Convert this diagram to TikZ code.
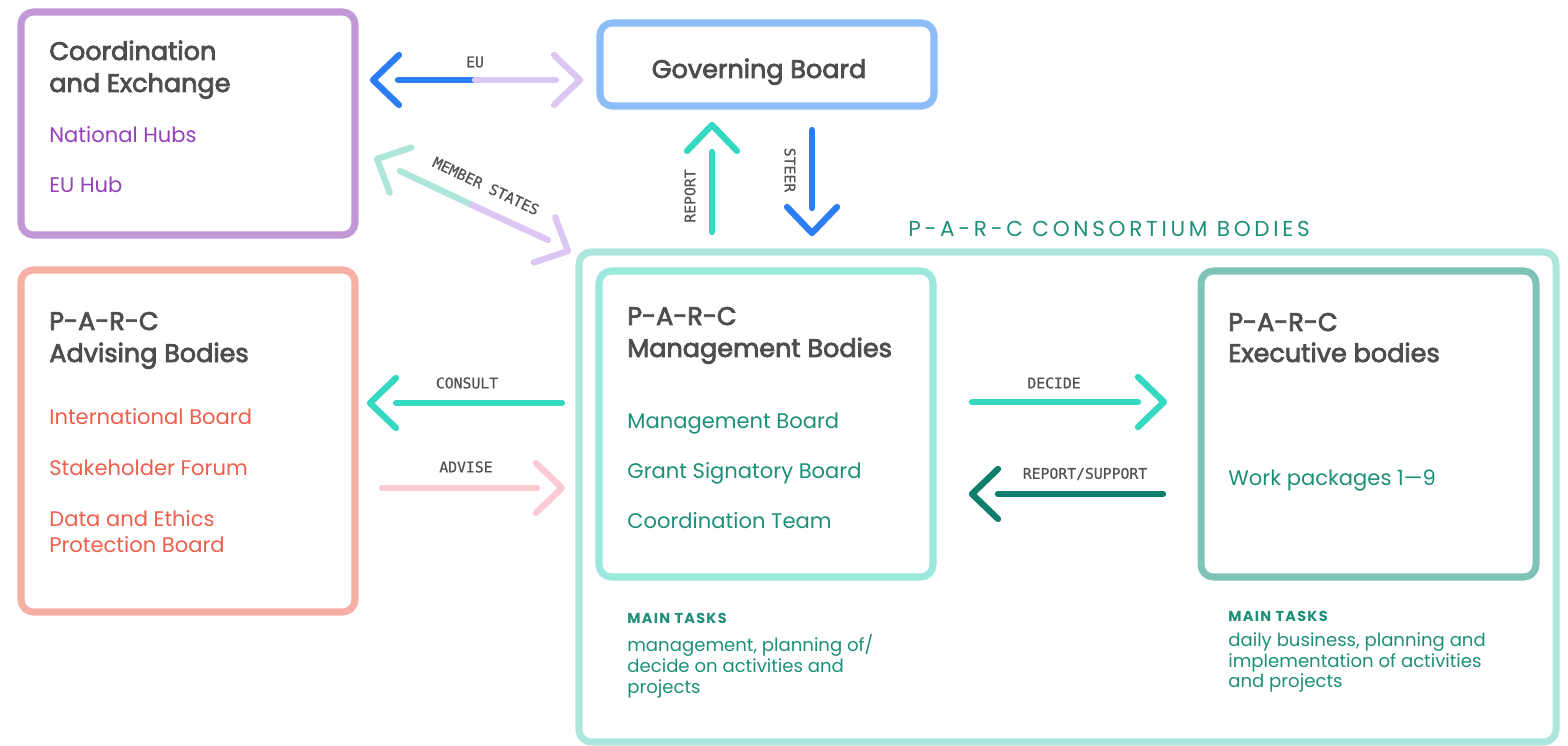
\documentclass[tikz,border=0pt]{standalone}
\usepackage{fontspec}
\setmainfont{Poppins}
\newfontfamily\headfont[FakeBold=3]{Poppins}
\newfontfamily\tagfont[FakeBold=0.6]{DejaVu Sans Mono}
\newfontfamily\spacedfont[LetterSpace=17]{Poppins}
\newfontfamily\tasksfont[LetterSpace=9]{Poppins}
\usetikzlibrary{calc}

\definecolor{parcGray}{HTML}{4D4D4D}
\definecolor{tagGray}{HTML}{525252}
\definecolor{coordPurple}{HTML}{C197D6}
\definecolor{hubPurple}{HTML}{9440B8}
\definecolor{govBlue}{HTML}{8DBDF7}
\definecolor{arrowBlue}{HTML}{2A7DF2}
\definecolor{lavender}{HTML}{DCC6F4}
\definecolor{advSalmon}{HTML}{F5AFA3}
\definecolor{advRed}{HTML}{EC5F4C}
\definecolor{advPink}{HTML}{FBCAD2}
\definecolor{consTeal}{HTML}{ACE6DD}
\definecolor{mgmtTeal}{HTML}{9BE8DE}
\definecolor{execTeal}{HTML}{7FC2B8}
\definecolor{arrowTeal}{HTML}{35D9C1}
\definecolor{mintTeal}{HTML}{AEE6DC}
\definecolor{darkTeal}{HTML}{107E6C}
\definecolor{textTeal}{HTML}{1D8F79}

\tikzset{
  box/.style={draw=#1, line width=4pt, rounded corners=7pt},
  arr/.style={draw=#1, line width=3.6pt, line cap=round, line join=round},
  pics/chev/.style={code={\draw[arr=#1] (-26,25) -- (0,0) -- (-26,-25);}},
  title/.style={font=\headfont\fontsize{14.5}{17}\selectfont, text=parcGray, anchor=base west, inner sep=0pt},
  item/.style={font=\fontsize{12}{14}\selectfont, text=#1, anchor=base west, inner sep=0pt},
  tag/.style={font=\tagfont\fontsize{8.4}{10}\selectfont, text=tagGray, inner sep=0pt},
  taskhead/.style={font=\tasksfont\bfseries\fontsize{8.2}{10}\selectfont, text=textTeal, anchor=base west, inner sep=0pt},
  tasktext/.style={font=\fontsize{10.3}{11.9}\selectfont, text=textTeal, anchor=north west, inner sep=0pt, align=left}
}

\begin{document}
\begin{tikzpicture}[x=0.02cm, y=-0.02cm]
  %%%%% START %%%%%
  \useasboundingbox (0,0) rectangle (1568,746);

  % boxes
  \draw[box=consTeal] (579,252) rectangle (1556,742);
  \draw[box=coordPurple] (21,12) rectangle (355,235);
  \draw[box=govBlue] (600,23) rectangle (934,106);
  \draw[box=advSalmon] (21,270) rectangle (355,612);
  \draw[box=mgmtTeal] (599,271) rectangle (933,577);
  \draw[box=execTeal] (1201,271) rectangle (1536,577);

  % coordination and exchange
  \node[title] (coordT1) at (49,60) {Coordination};
  \node[title] (coordT2) at (49,92) {and Exchange};
  \node[item=hubPurple] (natHubs) at (49,143) {National Hubs};
  \node[item=hubPurple] (euHub) at (49,193) {EU Hub};

  % governing board
  \node[title, anchor=base] (govT) at (759,78) {Governing Board};

  % advising bodies
  \node[title] (advT1) at (49,330) {P-A-R-C};
  \node[title] (advT2) at (49,362) {Advising Bodies};
  \node[item=advRed] (intBoard) at (49,424) {International Board};
  \node[item=advRed] (stakeForum) at (49,475) {Stakeholder Forum};
  \node[item=advRed] (ethics1) at (49,526) {Data and Ethics};
  \node[item=advRed] (ethics2) at (49,552) {Protection Board};

  % consortium
  \node[font=\spacedfont\fontsize{12.3}{14}\selectfont, text=textTeal, anchor=base west, inner sep=0pt] (consT) at (908,237) {P-A-R-C CONSORTIUM BODIES};

  % management bodies
  \node[title] (mgmtT1) at (627,325) {P-A-R-C};
  \node[title] (mgmtT2) at (627,357) {Management Bodies};
  \node[item=textTeal] (mgmtBoard) at (627,428) {Management Board};
  \node[item=textTeal] (grantBoard) at (627,478) {Grant Signatory Board};
  \node[item=textTeal] (coordTeam) at (627,528) {Coordination Team};
  \node[taskhead] (mgmtTasks) at (627,623) {MAIN TASKS};
  \node[tasktext] (mgmtText) at (627,634) {management, planning of/\\decide on activities and\\projects};

  % executive bodies
  \node[title] (execT1) at (1228,331) {P-A-R-C};
  \node[title] (execT2) at (1228,362) {Executive bodies};
  \node[item=textTeal] (workPk) at (1228,485) {Work packages 1—9};
  \node[taskhead] (execTasks) at (1228,621) {MAIN TASKS};
  \node[tasktext] (execText) at (1228,632) {daily business, planning and\\implementation of activities\\and projects};

  % arrow end points
  \coordinate (euL) at (398,80);   \coordinate (euM) at (475,80);   \coordinate (euR) at (556,80);
  \coordinate (euTipL) at (373,80); \coordinate (euTipR) at (580,80);
  \coordinate (msL) at (400,171);  \coordinate (msM) at (472,205);  \coordinate (msR) at (548,240);
  \coordinate (msTipL) at (377,159); \coordinate (msTipR) at (568,251);
  \coordinate (repB) at (712,232); \coordinate (repT) at (712,152); \coordinate (repTip) at (712,125);
  \coordinate (stT) at (812,130);  \coordinate (stB) at (812,208);  \coordinate (stTip) at (812,233);
  \coordinate (conR) at (562,403); \coordinate (conL) at (396,403); \coordinate (conTip) at (370,403);
  \coordinate (advL) at (382,488); \coordinate (advR) at (537,488); \coordinate (advTip) at (562,488);
  \coordinate (decL) at (972,402); \coordinate (decR) at (1138,402); \coordinate (decTip) at (1164,402);
  \coordinate (rsR) at (1163,494); \coordinate (rsL) at (998,494); \coordinate (rsTip) at (972,494);

  % EU
  \draw[arr=arrowBlue] (euL) -- (euM);
  \draw[arr=lavender] (euM) -- (euR);
  \pic[rotate=180] at (euTipL) {chev=arrowBlue};
  \pic at (euTipR) {chev=lavender};
  \node[tag] (euTag) at (475,62) {EU};

  % member states
  \draw[arr=mintTeal] (msL) -- (msM);
  \draw[arr=lavender] (msM) -- (msR);
  \pic[rotate=154.6] at (msTipL) {chev=mintTeal};
  \pic[rotate=-25.4] at (msTipR) {chev=lavender};
  \node[tag, rotate=-25.4] (msTag) at (486,186) {MEMBER STATES};

  % report / steer
  \draw[arr=arrowTeal] (repB) -- (repT);
  \pic[rotate=90] at (repTip) {chev=arrowTeal};
  \node[tag, rotate=90] (repTag) at (690,196) {REPORT};
  \draw[arr=arrowBlue] (stT) -- (stB);
  \pic[rotate=-90] at (stTip) {chev=arrowBlue};
  \node[tag, rotate=-90] (stTag) at (790,170) {STEER};

  % consult / advise
  \draw[arr=arrowTeal] (conR) -- (conL);
  \pic[rotate=180] at (conTip) {chev=arrowTeal};
  \node[tag] (conTag) at (467,383) {CONSULT};
  \draw[arr=advPink] (advL) -- (advR);
  \pic at (advTip) {chev=advPink};
  \node[tag] (advTag) at (466,467) {ADVISE};

  % decide / report-support
  \draw[arr=arrowTeal] (decL) -- (decR);
  \pic at (decTip) {chev=arrowTeal};
  \node[tag] (decTag) at (1054,383) {DECIDE};
  \draw[arr=darkTeal] (rsR) -- (rsL);
  \pic[rotate=180] at (rsTip) {chev=darkTeal};
  \node[tag] (rsTag) at (1085,474) {REPORT/SUPPORT};
  %%%%% END %%%%%
\end{tikzpicture}
\end{document}
